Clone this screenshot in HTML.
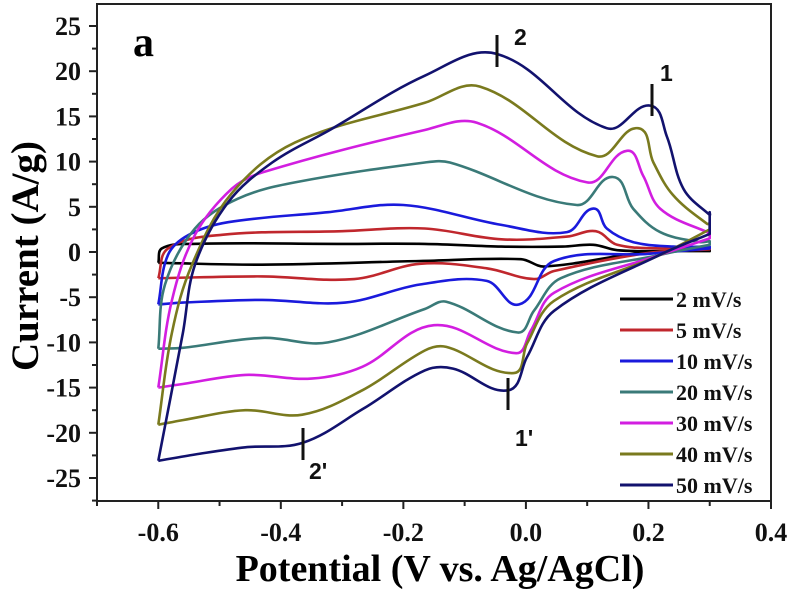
<!DOCTYPE html>
<html><head><meta charset="utf-8"><style>
body{margin:0;background:#fff}
svg{display:block}
text{font-family:"Liberation Serif",serif;font-weight:bold}
text.sans{font-family:"Liberation Sans",sans-serif;font-weight:bold}
</style></head><body>
<svg id="chart" width="789" height="590" viewBox="0 0 789 590" xmlns="http://www.w3.org/2000/svg"></svg>
<script>
const seriesLabels=["2 mV/s","5 mV/s","10 mV/s","20 mV/s","30 mV/s","40 mV/s","50 mV/s"];
const seriesColors=["#000000","#c0272d","#1a1adc","#3a7a78","#d21ee0","#7a7a1e","#12126e"];
const upV=[
[-0.6,-0.594,-0.545,-0.3,-0.165,-0.04,0.06,0.11,0.149,0.22,0.3],
[-0.6,-0.584,-0.496,-0.3,-0.165,-0.04,0.067,0.114,0.149,0.22,0.3],
[-0.6,-0.584,-0.55,-0.486,-0.323,-0.2,-0.04,0.067,0.11,0.132,0.175,0.24,0.3],
[-0.6,-0.589,-0.54,-0.47,-0.377,-0.165,-0.124,0.083,0.142,0.175,0.219,0.284,0.3],
[-0.6,-0.578,-0.54,-0.48,-0.43,-0.165,-0.08,0.1,0.165,0.191,0.219,0.296,0.3],
[-0.6,-0.578,-0.545,-0.48,-0.377,-0.165,-0.075,0.116,0.183,0.208,0.24,0.296,0.3],
[-0.6,-0.56,-0.54,-0.486,-0.414,-0.32,-0.165,-0.047,0.132,0.203,0.23,0.257,0.3,0.3]];
const upI=[
[-1.2,0.4,0.9,0.9,0.9,0.6,0.6,0.8,0.2,0.1,0.2],
[-2.9,0.4,1.9,2.3,2.6,1.4,1.7,2.3,0.8,0.4,0.4],
[-5.8,-0.3,1.9,3.3,4.4,5.2,3.0,2.2,4.8,2.6,1.1,0.6,0.6],
[-10.7,-3.6,2.6,5.9,7.7,9.9,9.9,5.2,8.3,4.8,2.2,1.1,1.2],
[-15,-5.4,1.9,7,8.8,13.5,14.3,7.7,11.2,8.5,4.8,2.2,2.4],
[-19.1,-9,-1.4,6.5,12.1,16.5,18.3,10.6,13.7,9.9,6.3,3.1,3.2],
[-23.1,-9,-1.4,5.5,9.9,13.5,19.5,21.9,13.7,16.2,12.8,7,4.1,4.4]];
const loV=[
[0.3,0.2,0.03,-0.008,-0.173,-0.43,-0.6],
[0.3,0.2,0.046,0.013,-0.064,-0.173,-0.28,-0.43,-0.6],
[0.3,0.2,0.046,-0.011,-0.064,-0.173,-0.295,-0.43,-0.56,-0.6],
[0.3,0.22,0.057,0.013,-0.013,-0.13,-0.165,-0.323,-0.43,-0.56,-0.6],
[0.3,0.22,0.046,0.008,-0.016,-0.15,-0.267,-0.35,-0.458,-0.56,-0.6],
[0.3,0.22,0.046,0.002,-0.02,-0.13,-0.165,-0.267,-0.365,-0.458,-0.56,-0.6],
[0.3,0.219,0.046,0.002,-0.029,-0.119,-0.165,-0.267,-0.364,-0.458,-0.54,-0.6]];
const loI=[
[0.1,0,-1.6,-0.8,-1,-1.4,-1.2],
[0.3,-0.1,-2.1,-3,-1.8,-1.3,-3,-2.7,-2.9],
[0.4,-0.2,-1,-5.8,-3.2,-3.6,-5.6,-5.3,-5.6,-5.8],
[0.8,-0.3,-2.9,-6.5,-8.9,-5.5,-6.3,-10,-9.5,-10.6,-10.7],
[1.5,-0.3,-4.5,-8.7,-11.2,-8.1,-12.7,-14,-13.6,-14.6,-15],
[2.5,-0.3,-5.4,-10.1,-13.4,-10.5,-10.9,-15.3,-18,-17.5,-18.6,-19.1],
[2.0,-0.3,-6.5,-11.6,-15.3,-12.9,-13.1,-17.4,-21.1,-21.6,-22.4,-23.1]];
const xTicks=[-0.6,-0.4,-0.2,0.0,0.2,0.4];
const xTickLabels=["-0.6","-0.4","-0.2","0.0","0.2","0.4"];
const yTicks=[25,20,15,10,5,0,-5,-10,-15,-20,-25];
const yTickLabels=["25","20","15","10","5","0","-5","-10","-15","-20","-25"];

const NS="http://www.w3.org/2000/svg";
const svg=document.getElementById('chart');
const L=97,R=771,T=4,B=501;
const xMin=-0.7,xMax=0.4;
function sx(v){return L+(v-xMin)/(xMax-xMin)*(R-L);}
function sy(i){return 252-i*9.04;}
function mk(tag,attrs,parent){const e=document.createElementNS(NS,tag);for(const k in attrs)e.setAttribute(k,attrs[k]);(parent||svg).appendChild(e);return e;}
function dist(a,b){return Math.hypot(a[0]-b[0],a[1]-b[1]);}
function smoothPath(pts){
  const n=pts.length,tan=[];
  for(let i=0;i<n;i++){
    const a=pts[Math.max(0,i-1)],b=pts[Math.min(n-1,i+1)];
    let dx=b[0]-a[0],dy=b[1]-a[1];const l=Math.hypot(dx,dy)||1;
    tan.push([dx/l,dy/l]);
  }
  let d="M"+pts[0][0].toFixed(1)+","+pts[0][1].toFixed(1);
  for(let i=0;i<n-1;i++){
    const p1=pts[i],p2=pts[i+1],s=dist(p1,p2)*0.35;
    const c1=[p1[0]+tan[i][0]*s,p1[1]+tan[i][1]*s];
    const c2=[p2[0]-tan[i+1][0]*s,p2[1]-tan[i+1][1]*s];
    d+=" C"+c1[0].toFixed(1)+","+c1[1].toFixed(1)+" "+c2[0].toFixed(1)+","+c2[1].toFixed(1)+" "+p2[0].toFixed(1)+","+p2[1].toFixed(1);
  }
  return d;
}
for(let s=0;s<seriesLabels.length;s++){
  const pts=[];
  for(let k=0;k<upV[s].length;k++)pts.push([sx(upV[s][k]),sy(upI[s][k])]);
  const lo=[];
  for(let k=0;k<loV[s].length;k++)lo.push([sx(loV[s][k]),sy(loI[s][k])]);
  const p=mk('path',{d:smoothPath(pts)+" "+smoothPath(lo).replace('M','L'),fill:'none',stroke:seriesColors[s],'stroke-width':2.6,'stroke-linejoin':'round'});
  
  
}
const fr=mk('rect',{x:L,y:T,width:R-L,height:B-T,fill:'none',stroke:'#222','stroke-width':2});


for(let v=-0.7;v<=0.401;v+=0.1){
  const major=xTicks.some(t=>Math.abs(t-v)<1e-6);
  mk('line',{x1:sx(v),x2:sx(v),y1:B,y2:B+(major?8:5),stroke:'#222','stroke-width':2});
}
xTicks.forEach((v,i)=>{
  const t=mk('text',{x:sx(v),y:B+40,'font-size':26,'text-anchor':'middle',fill:'#111'});
  t.textContent=xTickLabels[i];
  
  
});
for(let v=-27.5;v<=27.5;v+=2.5){
  const major=yTicks.some(t=>Math.abs(t-v)<1e-6);
  if(sy(v)<T||sy(v)>B)continue;
  mk('line',{x1:L,x2:L-(major?8:5),y1:sy(v),y2:sy(v),stroke:'#222','stroke-width':2});
}
yTicks.forEach((v,i)=>{
  const t=mk('text',{x:L-16,y:sy(v)+9,'font-size':26,'text-anchor':'end',fill:'#111'});
  t.textContent=yTickLabels[i];
  
  
});
seriesLabels.forEach((lab,i)=>{
  const y=299+i*31;
  const g=mk('g',{});
  
  
  mk('line',{x1:620,x2:673,y1:y,y2:y,stroke:seriesColors[i],'stroke-width':3},g);
  const t=mk('text',{x:676,y:y+8,'font-size':22,fill:'#111'},g);
  t.textContent=lab;
});
</script>
<div style="position:absolute;left:0;top:0;width:789px;height:590px;pointer-events:none">
<svg width="789" height="590" style="position:absolute;left:0;top:0">
<text x="133" y="56" font-size="42">a</text>
<text x="440" y="581" font-size="38" text-anchor="middle">Potential (V vs. Ag/AgCl)</text>
<text x="0" y="0" font-size="39" text-anchor="middle" transform="translate(38,256) rotate(-90)">Current (A/g)</text>
<g stroke="#111" stroke-width="3">
<line x1="497" y1="35" x2="497" y2="67"/><line x1="652" y1="84" x2="652" y2="116"/>
<line x1="508" y1="378" x2="508" y2="410"/><line x1="303" y1="428" x2="303" y2="460"/>
</g>
<g font-size="23" fill="#111">
<text class="sans" x="514" y="45">2</text>
<text class="sans" x="660" y="81">1</text>
<text class="sans" x="515" y="446">1'</text>
<text class="sans" x="309" y="479">2'</text>
</g>
</svg></div>
</body></html>
